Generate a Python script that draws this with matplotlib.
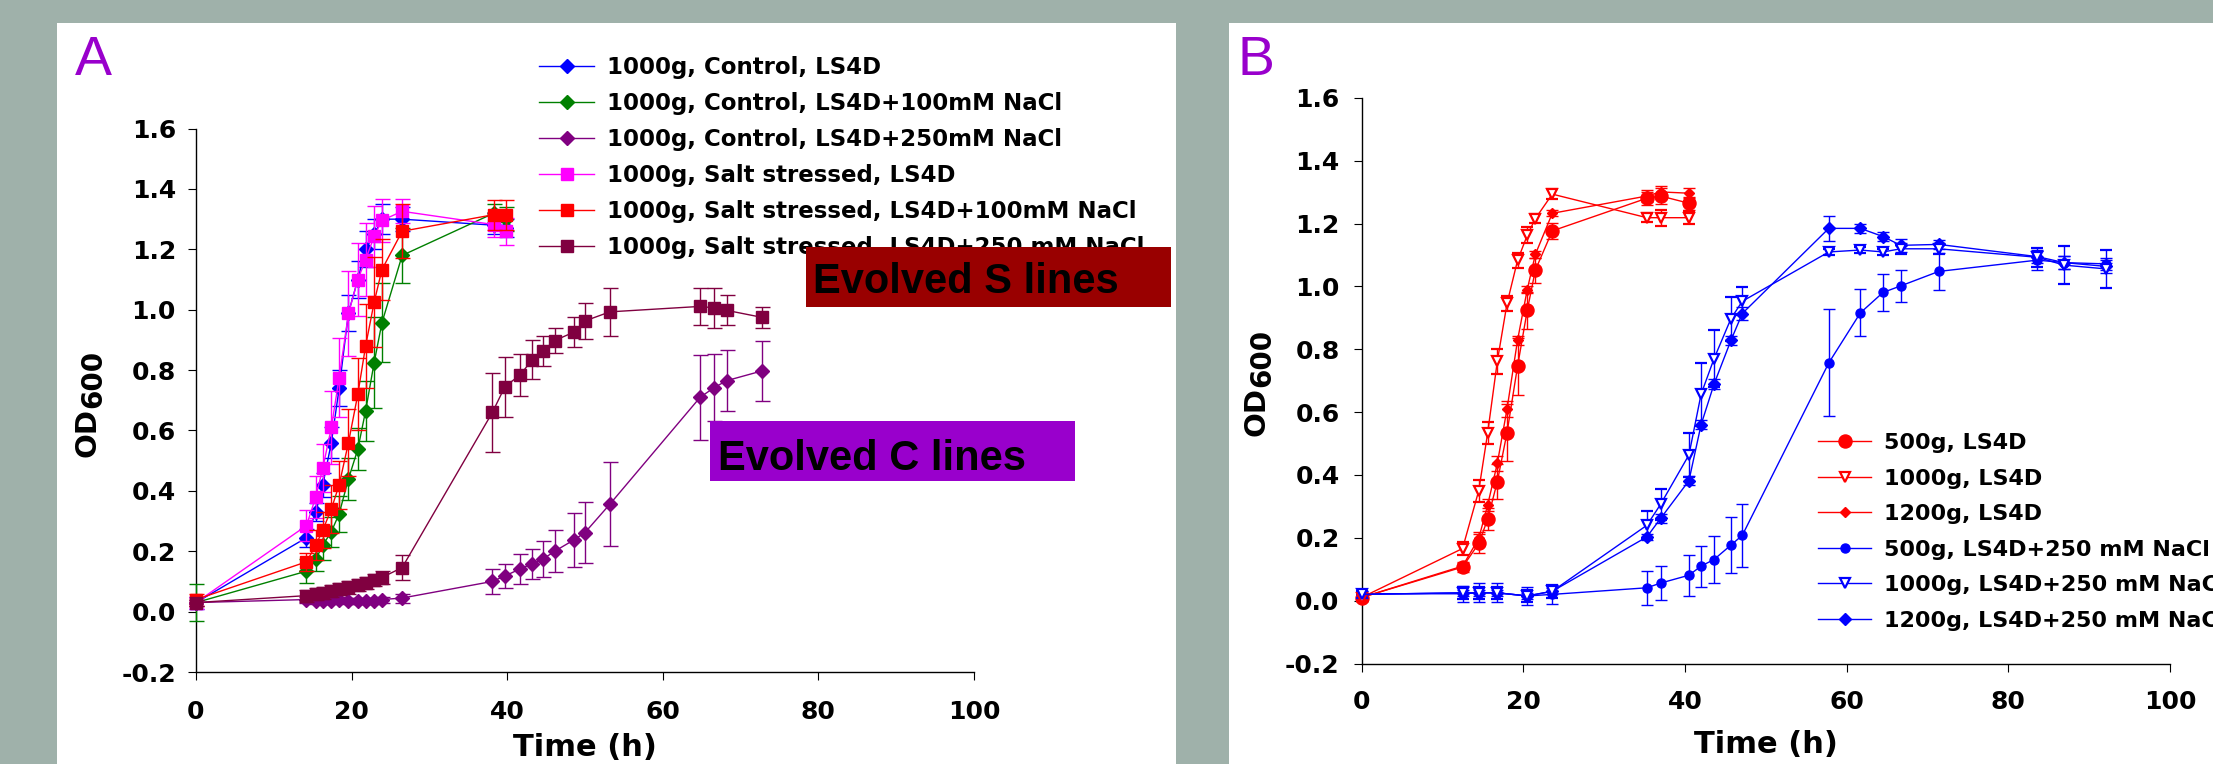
import numpy as np
import matplotlib
matplotlib.use("Agg")
import matplotlib.pyplot as plt
from matplotlib.patches import Rectangle
from matplotlib.ticker import FormatStrFormatter

plt.rcParams.update({'font.family': 'DejaVu Sans', 'font.weight': 'bold'})

W, H = 2213, 764
GREY = "#9fb1aa"; PURPLE = "#9900cc"; DARKRED = "#990000"

# ---------------- panel A data ----------------
t_a = [0, 14.2, 15.4, 16.3, 17.4, 18.4, 19.6, 20.8, 21.8, 22.9, 23.9, 26.5, 38.3, 39.8]
t_a_salt = [0, 14.2, 15.4, 16.3, 17.4, 18.4, 19.6, 20.8, 21.8, 22.9, 23.9, 26.5,
            38.1, 39.7, 41.7, 43.2, 44.6, 46.1, 48.6, 50.0, 53.2, 64.8, 66.6, 68.2, 72.7]

ctrl_ls4d = [0.03, 0.245, 0.33, 0.42, 0.56, 0.74, 0.99, 1.10, 1.20, 1.25, 1.30, 1.30, 1.28, 1.27]
ctrl_ls4d_err = [0.02, 0.03, 0.03, 0.04, 0.05, 0.06, 0.06, 0.06, 0.06, 0.05, 0.05, 0.04, 0.03, 0.03]
ctrl_100 = [0.03, 0.134, 0.174, 0.22, 0.265, 0.324, 0.44, 0.538, 0.665, 0.825, 0.957, 1.18, 1.32, 1.30]
ctrl_100_err = [0.06, 0.04, 0.04, 0.05, 0.05, 0.06, 0.07, 0.07, 0.10, 0.15, 0.13, 0.09, 0.03, 0.04]
salt_ls4d = [0.03, 0.285, 0.38, 0.476, 0.61, 0.775, 0.988, 1.10, 1.166, 1.243, 1.296, 1.326, 1.282, 1.26]
salt_ls4d_err = [0.02, 0.05, 0.07, 0.08, 0.12, 0.13, 0.14, 0.12, 0.12, 0.10, 0.07, 0.04, 0.04, 0.045]
salt_100 = [0.04, 0.165, 0.22, 0.27, 0.34, 0.42, 0.56, 0.72, 0.88, 1.025, 1.133, 1.26, 1.315, 1.315]
salt_100_err = [0.02, 0.03, 0.05, 0.06, 0.08, 0.08, 0.11, 0.12, 0.14, 0.15, 0.10, 0.09, 0.05, 0.05]
ctrl_250 = [0.03, 0.04, 0.035, 0.035, 0.035, 0.04, 0.035, 0.035, 0.035, 0.035, 0.04, 0.045,
            0.10, 0.118, 0.142, 0.158, 0.174, 0.20, 0.238, 0.262, 0.356, 0.71, 0.742, 0.765, 0.797]
ctrl_250_err = [0.01, 0.01, 0.01, 0.01, 0.01, 0.01, 0.01, 0.01, 0.01, 0.01, 0.01, 0.015,
                0.04, 0.04, 0.05, 0.05, 0.06, 0.07, 0.09, 0.10, 0.14, 0.14, 0.11, 0.10, 0.10]
salt_250 = [0.03, 0.053, 0.058, 0.062, 0.068, 0.075, 0.080, 0.087, 0.095, 0.105, 0.113, 0.146,
            0.66, 0.745, 0.785, 0.834, 0.863, 0.898, 0.926, 0.963, 0.993, 1.011, 1.006, 0.998, 0.975]
salt_250_err = [0.01, 0.02, 0.02, 0.02, 0.02, 0.02, 0.02, 0.02, 0.02, 0.02, 0.02, 0.04,
                0.13, 0.10, 0.07, 0.065, 0.05, 0.04, 0.05, 0.06, 0.08, 0.06, 0.065, 0.05, 0.035]

labels_a = ["1000g, Control, LS4D", "1000g, Control, LS4D+100mM NaCl",
            "1000g, Control, LS4D+250mM NaCl", "1000g, Salt stressed, LS4D",
            "1000g, Salt stressed, LS4D+100mM NaCl", "1000g, Salt stressed, LS4D+250 mM NaCl"]

# ---------------- panel B data ----------------
t_b_red = [0, 12.5, 14.5, 15.6, 16.8, 18.0, 19.3, 20.5, 21.5, 23.6, 35.3, 37.0, 40.5]
g500 = [0.01, 0.107, 0.182, 0.259, 0.379, 0.535, 0.746, 0.924, 1.052, 1.177, 1.281, 1.288, 1.265]
g500_err = [0.01, 0.015, 0.03, 0.035, 0.055, 0.09, 0.09, 0.06, 0.04, 0.025, 0.02, 0.025, 0.02]
g1000 = [0.01, 0.166, 0.35, 0.533, 0.762, 0.946, 1.083, 1.163, 1.216, 1.294, 1.219, 1.219, 1.219]
g1000_err = [0.01, 0.02, 0.035, 0.035, 0.04, 0.025, 0.025, 0.025, 0.015, 0.015, 0.015, 0.025, 0.02]
g1200 = [0.01, 0.11, 0.198, 0.304, 0.437, 0.61, 0.829, 0.99, 1.102, 1.233, 1.288, 1.301, 1.297]
g1200_err = [0.01, 0.01, 0.02, 0.02, 0.025, 0.025, 0.015, 0.01, 0.01, 0.01, 0.02, 0.02, 0.015]

t_b_blue = [0, 12.5, 14.5, 16.8, 20.5, 23.6, 35.3, 37.0, 40.5, 42.0, 43.6, 45.7, 47.1,
            57.8, 61.7, 64.5, 66.7, 71.4, 83.6, 86.9, 92.1]
s500 = [0.022, 0.022, 0.025, 0.025, 0.015, 0.02, 0.041, 0.056, 0.081, 0.11, 0.131, 0.177, 0.208,
        0.757, 0.916, 0.981, 1.002, 1.048, 1.084, 1.076, 1.072]
s500_err = [0.01, 0.025, 0.03, 0.03, 0.03, 0.03, 0.055, 0.055, 0.065, 0.065, 0.075, 0.09, 0.10,
            0.17, 0.075, 0.06, 0.05, 0.06, 0.03, 0.02, 0.02]
s1000 = [0.02, 0.025, 0.025, 0.025, 0.015, 0.03, 0.24, 0.307, 0.464, 0.657, 0.77, 0.898, 0.953,
         1.11, 1.116, 1.11, 1.12, 1.12, 1.093, 1.068, 1.056]
s1000_err = [0.01, 0.02, 0.02, 0.02, 0.02, 0.02, 0.045, 0.05, 0.07, 0.10, 0.09, 0.07, 0.045,
             0.01, 0.01, 0.01, 0.015, 0.015, 0.03, 0.06, 0.06]
s1200 = [0.02, 0.025, 0.025, 0.025, 0.015, 0.03, 0.203, 0.262, 0.382, 0.56, 0.689, 0.829, 0.914,
         1.185, 1.185, 1.159, 1.131, 1.134, 1.095, 1.076, 1.064]
s1200_err = [0.01, 0.01, 0.01, 0.01, 0.01, 0.01, 0.01, 0.015, 0.015, 0.015, 0.015, 0.015, 0.02,
             0.04, 0.015, 0.015, 0.02, 0.015, 0.02, 0.02, 0.02]

labels_b = ["500g, LS4D", "1000g, LS4D", "1200g, LS4D", "500g, LS4D+250 mM NaCl",
            "1000g, LS4D+250 mM NaCl", "1200g, LS4D+250 mM NaCl"]

# ---------------- figure ----------------
fig = plt.figure(figsize=(W / 100, H / 100), dpi=100)
fig.patch.set_facecolor(GREY)

def px_rect(x0, y0, x1, y1, **kw):
    # rectangle given in image pixels (y downwards)
    return Rectangle((x0 / W, 1 - y1 / H), (x1 - x0) / W, (y1 - y0) / H,
                     transform=fig.transFigure, **kw)

fig.patches.append(px_rect(57, 23, 1176, 764, facecolor='white', edgecolor='none', zorder=-1))
fig.patches.append(px_rect(1229, 23, 2213, 764, facecolor='white', edgecolor='none', zorder=-1))

axA = fig.add_axes([196 / W, 1 - 672 / H, 778 / W, (672 - 128.6) / H])
axB = fig.add_axes([1361.5 / W, 1 - 663.5 / H, 808.5 / W, (663.5 - 98) / H])

def style(ax, xpad, ypad):
    ax.set_facecolor('none')
    ax.set_xlim(0, 100); ax.set_ylim(-0.2, 1.6)
    ax.set_xticks(range(0, 101, 20)); ax.set_yticks(np.arange(-0.2, 1.61, 0.2))
    ax.yaxis.set_major_formatter(FormatStrFormatter('%.1f'))
    for s in ['top', 'right']:
        ax.spines[s].set_visible(False)
    for s in ['left', 'bottom']:
        ax.spines[s].set_linewidth(1.0)
    ax.tick_params(axis='both', direction='out', length=5.8, width=0.8, labelsize=18)
    ax.tick_params(axis='x', pad=xpad)
    ax.tick_params(axis='y', pad=ypad)
    for lab in ax.get_xticklabels() + ax.get_yticklabels():
        lab.set_fontweight('bold')

def series(ax, t, y, e, color, marker, ms, label, cap, mfc=None, mew=1.0, z=3):
    c = ax.errorbar(t, y, yerr=e, color=color, marker=marker, ms=ms, lw=1.0,
                    elinewidth=1.0, capsize=cap, capthick=1.0, label=label,
                    mfc=mfc if mfc else color, mec=color, mew=mew, zorder=z)
    for a in c.get_children():
        a.set_clip_on(False)
    return c[0]

style(axA, 14.5, 8.6)
hA = [
    series(axA, t_a, ctrl_ls4d, ctrl_ls4d_err, '#0000ff', 'D', 7.4, labels_a[0], 5.4, z=3),
    series(axA, t_a, ctrl_100, ctrl_100_err, '#008000', 'D', 7.4, labels_a[1], 5.4, z=3.1),
    series(axA, t_a_salt, ctrl_250, ctrl_250_err, '#800080', 'D', 7.4, labels_a[2], 5.4, z=3.2),
    series(axA, t_a, salt_ls4d, salt_ls4d_err, '#ff00ff', 's', 8.4, labels_a[3], 5.4, z=3.3),
    series(axA, t_a, salt_100, salt_100_err, '#ff0000', 's', 8.4, labels_a[4], 5.4, z=3.4),
    series(axA, t_a_salt, salt_250, salt_250_err, '#800040', 's', 8.4, labels_a[5], 5.4, z=3.5),
]

style(axB, 13, 10)
hB = [
    series(axB, t_b_red, g500, g500_err, '#ff0000', 'o', 9.4, labels_b[0], 4.3, z=3),
    series(axB, t_b_red, g1000, g1000_err, '#ff0000', 'v', 7.4, labels_b[1], 4.3, mfc='white', mew=1.6, z=3.2),
    series(axB, t_b_red, g1200, g1200_err, '#ff0000', 'D', 5.6, labels_b[2], 4.3, z=3.1),
    series(axB, t_b_blue, s500, s500_err, '#0000ff', 'o', 6.5, labels_b[3], 4.3, z=3),
    series(axB, t_b_blue, s1000, s1000_err, '#0000ff', 'v', 7.0, labels_b[4], 4.3, mfc='white', mew=1.6, z=3.2),
    series(axB, t_b_blue, s1200, s1200_err, '#0000ff', 'D', 6.0, labels_b[5], 4.3, z=3.1),
]

for ax, lp in [(axA, 6), (axB, 12)]:
    ax.set_xlabel("Time (h)", fontsize=22, fontweight='bold', labelpad=lp)

def legend(ax, handles, labels, x, ytop, size, spacing):
    ax.legend(handles, labels, loc='upper left', bbox_to_anchor=(x / W, 1 - ytop / H),
              bbox_transform=fig.transFigure, frameon=False, borderpad=0,
              borderaxespad=0, handlelength=2.4, handletextpad=0.55,
              labelspacing=spacing, prop={'family': 'DejaVu Sans', 'weight': 'bold', 'size': size})

legend(axA, hA, labels_a, 539, 56, 16.5, 0.57)
legend(axB, hB, labels_b, 1818, 433, 16, 0.70)

# OD600 axis titles (subscript same size, shifted)
for odx, ody, sx, sy in [(87, 432, 93, 379), (1256, 411, 1262, 358)]:
    fig.text(odx / W, 1 - ody / H, "OD", rotation=90, ha='center', va='center',
             fontsize=21, fontweight='bold')
    fig.text(sx / W, 1 - sy / H, "600", rotation=90, ha='center', va='center',
             fontsize=20, fontweight='bold')

# panel letters
fig.text(75 / W, 1 - 75 / H, "A", fontsize=40, color=PURPLE, family='Liberation Sans',
         fontweight='normal', ha='left', va='baseline')
fig.text(1238 / W, 1 - 75 / H, "B", fontsize=40, color=PURPLE, family='Liberation Sans',
         fontweight='normal', ha='left', va='baseline')

# annotation boxes
fig.patches.append(px_rect(806, 247, 1171, 307, facecolor=DARKRED, edgecolor='none', zorder=5))
fig.text(813 / W, 1 - 293 / H, "Evolved S lines", fontsize=30, family='Liberation Sans',
         fontweight='bold', color='black', ha='left', va='baseline', zorder=6)
fig.patches.append(px_rect(710, 421, 1075, 481, facecolor=PURPLE, edgecolor='none', zorder=5))
fig.text(718 / W, 1 - 470 / H, "Evolved C lines", fontsize=30, family='Liberation Sans',
         fontweight='bold', color='black', ha='left', va='baseline', zorder=6)

fig.savefig("out.png", dpi=100, facecolor=GREY)
